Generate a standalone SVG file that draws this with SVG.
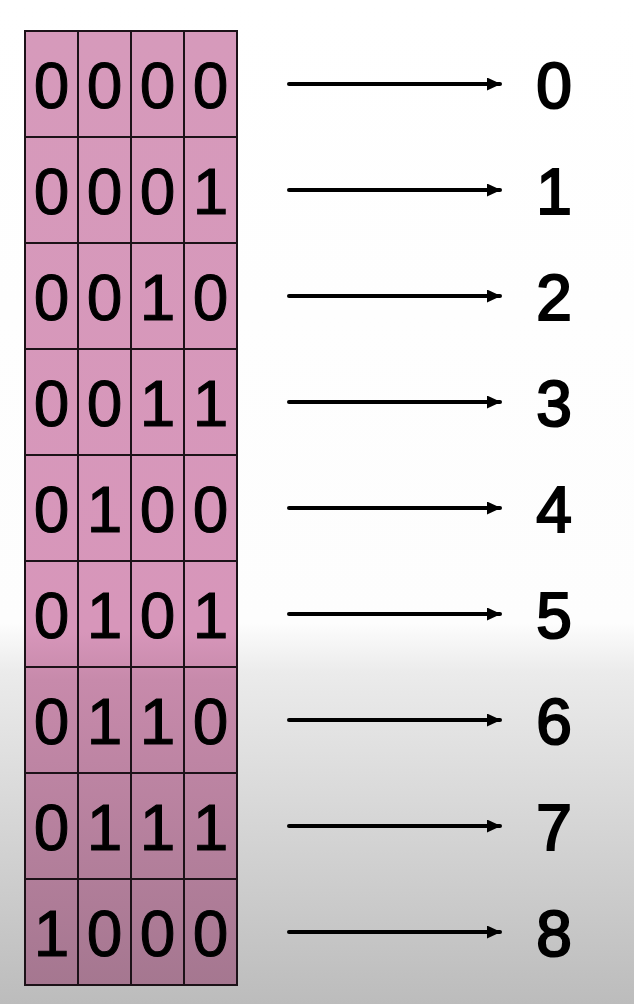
<svg xmlns="http://www.w3.org/2000/svg" width="634" height="1004" viewBox="0 0 634 1004">
<defs>
<linearGradient id="bg" gradientUnits="userSpaceOnUse" x1="0" y1="0" x2="0" y2="1004">
<stop offset="0" stop-color="#ffffff"/>
<stop offset="0.62" stop-color="#fdfdfd"/>
<stop offset="0.67" stop-color="#ebebeb"/>
<stop offset="1" stop-color="#bcbcbc"/>
</linearGradient>
<linearGradient id="cell" gradientUnits="userSpaceOnUse" x1="0" y1="31" x2="0" y2="985">
<stop offset="0" stop-color="#d69abb"/>
<stop offset="0.63" stop-color="#d796ba"/>
<stop offset="0.68" stop-color="#c78aab"/>
<stop offset="1" stop-color="#a57790"/>
</linearGradient>
<marker id="ah" viewBox="0 0 14 13" refX="13" refY="6.5" markerWidth="14" markerHeight="13" markerUnits="userSpaceOnUse" orient="auto">
<path d="M0,0 L14,6.5 L0,13 Z" fill="#000"/>
</marker>
<style>
.d{font-family:"Liberation Sans",Arial,sans-serif;font-size:64px;fill:#000;stroke:#000;stroke-width:1;text-anchor:middle}
.l{font-family:"Liberation Sans",Arial,sans-serif;font-size:64px;fill:#000;stroke:#000;stroke-width:2.2;text-anchor:middle}
.g{stroke:#1c1218;stroke-width:2;fill:none}
.c{stroke:#000;stroke-width:4;stroke-linecap:round;fill:none;marker-end:url(#ah)}
</style>
</defs>
<rect width="634" height="1004" fill="url(#bg)"/>
<g id="table">
<rect x="25" y="31" width="212" height="954" fill="url(#cell)"/>
<path class="g" d="M25,31H237V985H25Z M78,31V985 M131,31V985 M184,31V985 M25,137H237 M25,243H237 M25,349H237 M25,455H237 M25,561H237 M25,667H237 M25,773H237 M25,879H237"/>
</g>
<g id="row0" class="d"><text x="51.5" y="108">0</text><text x="104.5" y="108">0</text><text x="157.5" y="108">0</text><text x="210.5" y="108">0</text></g>
<g id="row1" class="d"><text x="51.5" y="214">0</text><text x="104.5" y="214">0</text><text x="157.5" y="214">0</text><text x="210.5" y="214">1</text></g>
<g id="row2" class="d"><text x="51.5" y="320">0</text><text x="104.5" y="320">0</text><text x="157.5" y="320">1</text><text x="210.5" y="320">0</text></g>
<g id="row3" class="d"><text x="51.5" y="426">0</text><text x="104.5" y="426">0</text><text x="157.5" y="426">1</text><text x="210.5" y="426">1</text></g>
<g id="row4" class="d"><text x="51.5" y="532">0</text><text x="104.5" y="532">1</text><text x="157.5" y="532">0</text><text x="210.5" y="532">0</text></g>
<g id="row5" class="d"><text x="51.5" y="638">0</text><text x="104.5" y="638">1</text><text x="157.5" y="638">0</text><text x="210.5" y="638">1</text></g>
<g id="row6" class="d"><text x="51.5" y="744">0</text><text x="104.5" y="744">1</text><text x="157.5" y="744">1</text><text x="210.5" y="744">0</text></g>
<g id="row7" class="d"><text x="51.5" y="850">0</text><text x="104.5" y="850">1</text><text x="157.5" y="850">1</text><text x="210.5" y="850">1</text></g>
<g id="row8" class="d"><text x="51.5" y="956">1</text><text x="104.5" y="956">0</text><text x="157.5" y="956">0</text><text x="210.5" y="956">0</text></g>
<g id="connectors">
<line class="c" x1="289" y1="84" x2="500" y2="84"/>
<line class="c" x1="289" y1="190" x2="500" y2="190"/>
<line class="c" x1="289" y1="296" x2="500" y2="296"/>
<line class="c" x1="289" y1="402" x2="500" y2="402"/>
<line class="c" x1="289" y1="508" x2="500" y2="508"/>
<line class="c" x1="289" y1="614" x2="500" y2="614"/>
<line class="c" x1="289" y1="720" x2="500" y2="720"/>
<line class="c" x1="289" y1="826" x2="500" y2="826"/>
<line class="c" x1="289" y1="932" x2="500" y2="932"/>
</g>
<g id="labels" class="l">
<text x="554" y="108">0</text>
<text x="554" y="214">1</text>
<text x="554" y="320">2</text>
<text x="554" y="426">3</text>
<text x="554" y="532">4</text>
<text x="554" y="638">5</text>
<text x="554" y="744">6</text>
<text x="554" y="850">7</text>
<text x="554" y="956">8</text>
</g>
</svg>
